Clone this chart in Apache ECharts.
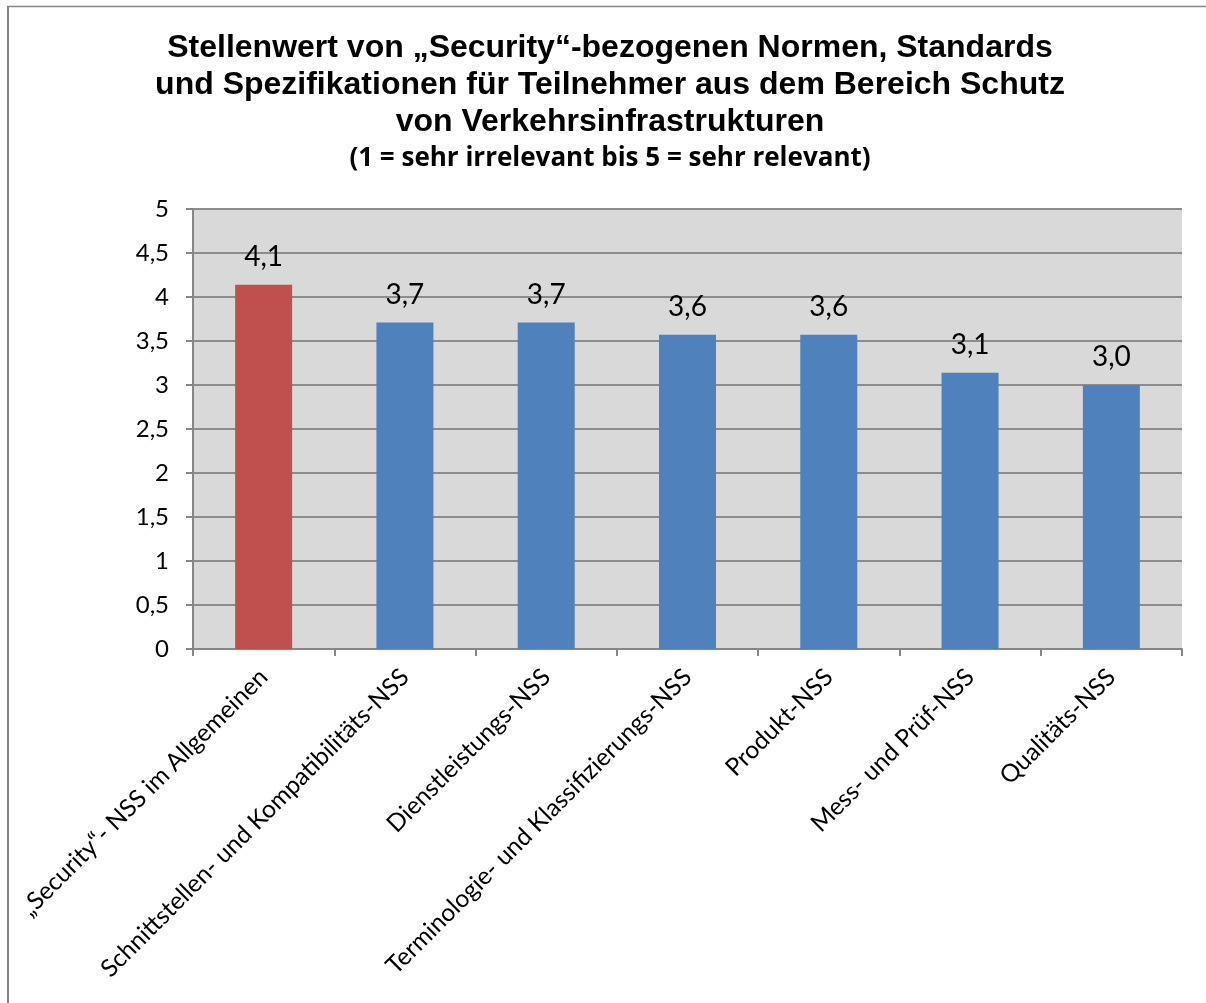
<!DOCTYPE html>
<html>
<head>
<meta charset="utf-8">
<script src="https://cdn.jsdelivr.net/npm/echarts@6/dist/echarts.min.js"></script>
<style>
html,body{margin:0;padding:0;background:#fff;}
#chart{width:1206px;height:1003px;}
</style>
</head>
<body>
<div id="chart"></div>
<script>
var titleText = 'Stellenwert von \u201eSecurity\u201c-bezogenen Normen, Standards\nund Spezifikationen f\u00fcr Teilnehmer aus dem Bereich Schutz\nvon Verkehrsinfrastrukturen';
var subtitleText = '(1 = sehr irrelevant bis 5 = sehr relevant)';
var categories = [
  '\u201eSecurity\u201c- NSS im Allgemeinen',
  'Schnittstellen- und Kompatibilit\u00e4ts-NSS',
  'Dienstleistungs-NSS',
  'Terminologie- und Klassifizierungs-NSS',
  'Produkt-NSS',
  'Mess- und Pr\u00fcf-NSS',
  'Qualit\u00e4ts-NSS'
];
var values = [4.14, 3.71, 3.71, 3.57, 3.57, 3.14, 3.00];
var barColors = ['#c0504d', '#4f81bd', '#4f81bd', '#4f81bd', '#4f81bd', '#4f81bd', '#4f81bd'];
var yTicks = [0, 0.5, 1, 1.5, 2, 2.5, 3, 3.5, 4, 4.5, 5];

var chart = echarts.init(document.getElementById('chart'), null, {renderer: 'canvas'});
var font = 'Lato, "Open Sans", sans-serif';
chart.setOption({
  backgroundColor: '#ffffff',
  animation: false,
  title: {
    text: titleText,
    subtext: subtitleText,
    left: 605,
    textAlign: 'center',
    top: 25,
    itemGap: 5,
    textStyle: {
      fontFamily: '"Liberation Sans", Arial, sans-serif',
      fontWeight: 'bold',
      fontSize: 32,
      lineHeight: 37,
      color: '#000'
    },
    subtextStyle: {
      fontFamily: '"Open Sans", sans-serif',
      fontWeight: 'bold',
      fontSize: 26,
      color: '#000'
    }
  },
  graphic: [
    {type: 'line', shape: {x1: 8, y1: 6, x2: 8, y2: 1003}, style: {stroke: '#868686', lineWidth: 2}},
    {type: 'line', shape: {x1: 7, y1: 6.5, x2: 1206, y2: 6.5}, style: {stroke: '#868686', lineWidth: 1.5}}
  ],
  grid: {
    left: 193, right: 24, top: 209, bottom: 354,
    show: true, backgroundColor: '#d9d9d9', borderWidth: 0
  },
  xAxis: {
    type: 'category',
    data: categories,
    axisLine: {lineStyle: {color: '#868686', width: 2}},
    axisTick: {show: true, length: 7, alignWithLabel: false, lineStyle: {color: '#868686', width: 2}},
    axisLabel: {
      interval: 0, rotate: 45, margin: 24,
      fontFamily: font, fontSize: 24.5, color: '#000'
    }
  },
  yAxis: {
    type: 'value',
    min: 0, max: 5, interval: 0.5,
    axisLine: {show: true, lineStyle: {color: '#868686', width: 2}},
    axisTick: {show: true, length: 7, lineStyle: {color: '#868686', width: 2}},
    splitLine: {show: true, lineStyle: {color: '#8c8c8c', width: 2}},
    axisLabel: {
      margin: 24,
      fontFamily: font, fontSize: 24, color: '#000',
      formatter: function (v) { return String(v).replace('.', ','); }
    }
  },
  series: [{
    type: 'bar',
    barWidth: 57,
    data: values.map(function (v, i) { return {value: v, itemStyle: {color: barColors[i]}}; }),
    label: {
      show: true, position: 'top', distance: 14,
      fontFamily: font, fontSize: 28, color: '#000',
      formatter: function (p) { return p.value.toFixed(1).replace('.', ','); }
    }
  }]
});
</script>
</body>
</html>
